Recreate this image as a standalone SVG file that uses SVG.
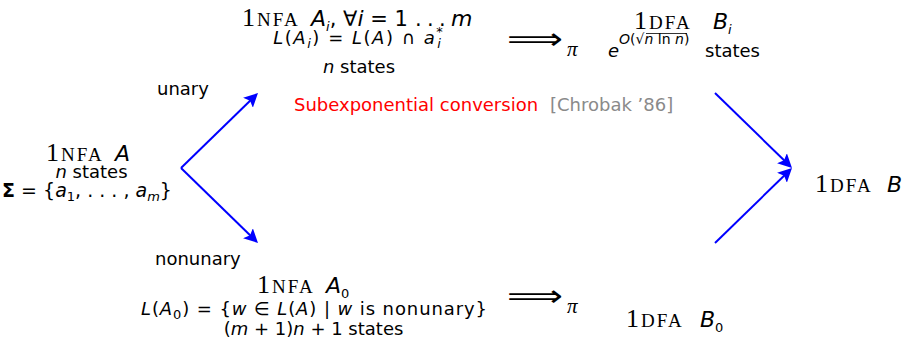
<svg xmlns="http://www.w3.org/2000/svg" width="911" height="343" viewBox="0 0 911 343">
<style>
text { font-family: "DejaVu Sans", sans-serif; font-size: 18px; fill: #000; }
.r1 { font-family: "Liberation Serif", serif; font-size: 26px; }
.sc { font-family: "Liberation Serif", serif; font-size: 19px; letter-spacing: 2px; }
.m { font-size: 22px; font-style: italic; }
.m0 { font-size: 21px; }
.i { font-style: italic; }
.sub { font-size: 13px; font-style: italic; }
.subu { font-size: 13px; }
.sup { font-size: 14px; font-style: italic; }
.supu { font-size: 14px; }
.pi { font-family: "Liberation Serif", serif; font-size: 21px; font-style: italic; }
.arr { font-size: 30px; }
.red { fill: #ff0000; }
.grey { fill: #8a8a8a; }
.conn { stroke: #0000ff; stroke-width: 2; fill: none; marker-end: url(#ah); }
</style>
<defs>
<marker id="ah" markerUnits="userSpaceOnUse" markerWidth="16" markerHeight="14" refX="8" refY="7" orient="auto">
<path d="M0,0 L14,7 L0,14 L3,7 Z" fill="#0000ff"/>
</marker>
</defs>

<g id="nfa-a">
<text y="161"><tspan class="r1" x="46">1</tspan><tspan class="sc" x="61">NFA</tspan><tspan class="m" x="115">A</tspan></text>
<text x="91.5" y="178" text-anchor="middle"><tspan class="i">n</tspan> states</text>
<text x="87" y="197" text-anchor="middle" style="font-size:19px"><tspan font-weight="bold">Σ</tspan> = {<tspan class="i">a</tspan><tspan class="subu" dy="4">1</tspan><tspan dy="-4">, . . . , </tspan><tspan class="i">a</tspan><tspan class="sub" dy="4">m</tspan><tspan dy="-4">}</tspan></text>
</g>

<g id="nfa-ai">
<text y="26"><tspan class="r1" x="242">1</tspan><tspan class="sc" x="257">NFA</tspan><tspan class="m" x="311">A</tspan><tspan class="sub" dy="5">i</tspan><tspan class="m0" dy="-5">, ∀</tspan><tspan class="m">i</tspan><tspan class="m0"> = 1 </tspan><tspan class="m0" x="415 427 439">...</tspan><tspan class="m" x="451">m</tspan></text>
<text x="358" y="44" text-anchor="middle" textLength="171"><tspan class="i">L</tspan>(<tspan class="i">A</tspan><tspan class="sub" dy="4">i</tspan><tspan dy="-4">) = </tspan><tspan class="i">L</tspan>(<tspan class="i">A</tspan>) ∩ <tspan class="i">a</tspan><tspan class="subu" dy="-8">*</tspan><tspan class="sub" dx="-7" dy="12">i</tspan></text>
<text x="359" y="73" text-anchor="middle"><tspan class="i">n</tspan> states</text>
</g>

<g id="nfa-a0">
<text y="293"><tspan class="r1" x="257">1</tspan><tspan class="sc" x="272">NFA</tspan><tspan class="m" x="326">A</tspan><tspan class="subu" dy="5">0</tspan></text>
<text x="314" y="315" text-anchor="middle" textLength="346"><tspan class="i">L</tspan>(<tspan class="i">A</tspan><tspan class="subu" dy="4">0</tspan><tspan dy="-4">) = {</tspan><tspan class="i">w</tspan> ∈ <tspan class="i">L</tspan>(<tspan class="i">A</tspan>) | <tspan class="i">w</tspan> is nonunary}</text>
<text x="313.5" y="335" text-anchor="middle">(<tspan class="i">m</tspan> + 1)<tspan class="i">n</tspan> + 1 states</text>
</g>

<g id="dfa-bi">
<text y="29"><tspan class="r1" x="634">1</tspan><tspan class="sc" x="649">DFA</tspan><tspan class="m" x="713">B</tspan><tspan class="sub" dy="5">i</tspan></text>
<text x="608" y="57"><tspan class="i">e</tspan><tspan class="sup" dy="-13">O</tspan><tspan class="supu">(√</tspan><tspan class="sup">n</tspan><tspan class="supu"> ln </tspan><tspan class="sup">n</tspan><tspan class="supu">)</tspan><tspan x="705" dy="13">states</tspan></text>
<line x1="646" y1="33.5" x2="687" y2="33.5" stroke="#000" stroke-width="0.8"/>
</g>

<g id="dfa-b0">
<text y="327"><tspan class="r1" x="626">1</tspan><tspan class="sc" x="641">DFA</tspan><tspan class="m" x="700">B</tspan><tspan class="subu" dy="5">0</tspan></text>
</g>

<g id="dfa-b">
<text y="192"><tspan class="r1" x="815">1</tspan><tspan class="sc" x="830">DFA</tspan><tspan class="m" x="887">B</tspan></text>
</g>

<g id="implies-top">
<text class="arr" x="507" y="49" textLength="56" lengthAdjust="spacingAndGlyphs">⟹</text>
<text class="pi" x="567" y="56">π</text>
</g>
<g id="implies-bottom">
<text class="arr" x="507" y="305.5" textLength="56" lengthAdjust="spacingAndGlyphs">⟹</text>
<text class="pi" x="567" y="313">π</text>
</g>

<g id="labels">
<text x="157" y="95">unary</text>
<text x="155" y="265">nonunary</text>
<text x="294" y="111"><tspan class="red">Subexponential conversion</tspan><tspan class="grey" x="550">[Chrobak ’86]</tspan></text>
</g>

<g id="connectors">
<line class="conn" x1="181" y1="168" x2="253.7" y2="97.2"/>
<line class="conn" x1="181" y1="168" x2="253.7" y2="238.8"/>
<line class="conn" x1="715" y1="93" x2="787.7" y2="163.8"/>
<line class="conn" x1="715" y1="243" x2="787.7" y2="172.2"/>
</g>
</svg>
